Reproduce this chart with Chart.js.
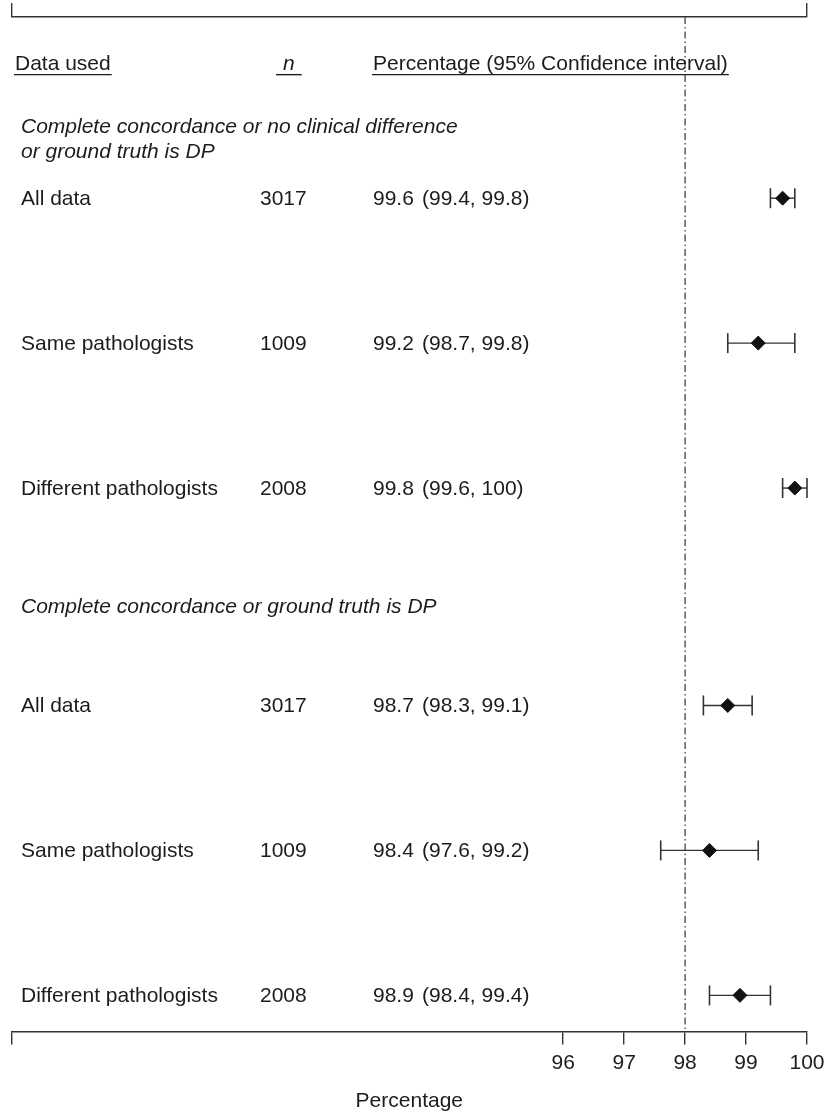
<!DOCTYPE html>
<html>
<head>
<meta charset="utf-8">
<script src="https://cdn.jsdelivr.net/npm/chart.js@4.4.1/dist/chart.umd.min.js"></script>
<style>
  html, body { margin: 0; padding: 0; background: #ffffff; }
  #wrap { width: 824px; height: 1114px; }
</style>
</head>
<body>
<div id="wrap"><canvas id="forest" width="824" height="1114"></canvas></div>
<script>
// Concordance between glass-slide and digital pathology reads
const groupTitles = [
  ['Complete concordance or no clinical difference', 'or ground truth is DP'],
  ['Complete concordance or ground truth is DP']
];
const groupTitleRows = [3.0, 16.26];
const rowLabels = ['All data', 'Same pathologists', 'Different pathologists',
                   'All data', 'Same pathologists', 'Different pathologists'];
const nValues = [3017, 1009, 2008, 3017, 1009, 2008];
const estimates = [99.6, 99.2, 99.8, 98.7, 98.4, 98.9];
const lowerCI = [99.4, 98.7, 99.6, 98.3, 97.6, 98.4];
const upperCI = [99.8, 99.8, 100, 99.1, 99.2, 99.4];
const rowPositions = [5, 9, 13, 19, 23, 27];
const xTickValues = [96, 97, 98, 99, 100];
const referenceValue = 98;
const headerLabels = ['Data used', 'n', 'Percentage (95% Confidence interval)'];

const X_MIN = 86.95, X_MAX = 100;
const Y_MIN = 0, Y_MAX = 28;
const FONT = "'Liberation Sans', Arial, Helvetica, sans-serif";
const INK = '#1c1c1c';
const LINE = '#333333';

// Confidence-interval whiskers, one small line per row with vertical caps
const ciDatasets = rowPositions.map((y, i) => ({
  type: 'line',
  data: [{ x: lowerCI[i], y: y }, { x: upperCI[i], y: y }],
  borderColor: LINE,
  borderWidth: 1.4,
  pointStyle: 'line',
  rotation: 90,
  pointRadius: 10,
  pointBorderWidth: 1.6,
  pointBorderColor: LINE,
  pointBackgroundColor: LINE,
  clip: false,
  order: 2
}));

const pointDataset = {
  type: 'scatter',
  data: rowPositions.map((y, i) => ({ x: estimates[i], y: y })),
  pointStyle: 'rectRot',
  pointRadius: 7,
  pointBackgroundColor: '#111111',
  pointBorderColor: '#111111',
  pointBorderWidth: 1,
  clip: false,
  order: 1
};

const referenceDataset = {
  type: 'line',
  data: [{ x: referenceValue, y: Y_MIN }, { x: referenceValue, y: Y_MAX }],
  borderColor: LINE,
  borderWidth: 1.2,
  borderDash: [7, 3, 1.5, 3],
  pointRadius: 0,
  clip: false,
  order: 3
};

// Table text: column headers, group titles, row labels, n and estimates
const tablePlugin = {
  id: 'forestTable',
  afterDatasetsDraw(chart) {
    const ctx = chart.ctx;
    const yScale = chart.scales.y;
    ctx.save();
    ctx.fillStyle = INK;
    ctx.strokeStyle = INK;
    ctx.textBaseline = 'alphabetic';

    const headerY = yScale.getPixelForValue(1.26) + 7;
    const headerX = [15, 283, 373];
    headerLabels.forEach((t, i) => {
      ctx.font = (i === 1 ? 'italic ' : '') + '21px ' + FONT;
      ctx.fillText(t, headerX[i], headerY);
      const w = ctx.measureText(t).width;
      const pad = i === 1 ? 7 : 1;
      ctx.lineWidth = 1.4;
      ctx.beginPath();
      ctx.moveTo(headerX[i] - pad, headerY + 5);
      ctx.lineTo(headerX[i] + w + pad, headerY + 5);
      ctx.stroke();
    });

    ctx.font = 'italic 21px ' + FONT;
    groupTitles.forEach((lines, g) => {
      const y0 = yScale.getPixelForValue(groupTitleRows[g]) + 7;
      lines.forEach((line, k) => ctx.fillText(line, 21, y0 + k * 25));
    });

    ctx.font = '21px ' + FONT;
    rowPositions.forEach((r, i) => {
      const y = yScale.getPixelForValue(r) + 7;
      ctx.fillText(rowLabels[i], 21, y);
      ctx.fillText(String(nValues[i]), 260, y);
      ctx.fillText(estimates[i].toFixed(1), 373, y);
      ctx.fillText('(' + String(lowerCI[i]) + ', ' + String(upperCI[i]) + ')', 422, y);
    });
    ctx.restore();
  }
};

// Let the layout padding alone decide the plot edges
function noLabelOverflow(axis) {
  axis.paddingLeft = 0;
  axis.paddingRight = 0;
}

new Chart(document.getElementById('forest'), {
  data: { datasets: [...ciDatasets, pointDataset, referenceDataset] },
  options: {
    responsive: false,
    animation: false,
    devicePixelRatio: 1,
    layout: { padding: { left: 7, right: 17, top: 3, bottom: 0 } },
    plugins: { legend: { display: false }, tooltip: { enabled: false } },
    scales: {
      x: {
        type: 'linear',
        position: 'bottom',
        min: X_MIN,
        max: X_MAX,
        afterBuildTicks(axis) {
          axis.ticks = [X_MIN, ...xTickValues].map(v => ({ value: v }));
        },
        afterFit: noLabelOverflow,
        ticks: {
          autoSkip: false,
          maxRotation: 0,
          padding: 6,
          color: INK,
          font: { family: FONT, size: 21 },
          callback: v => (xTickValues.includes(v) ? String(v) : '')
        },
        grid: { drawOnChartArea: false, drawTicks: true, tickLength: 13, color: LINE, lineWidth: 1.4 },
        border: { display: true, color: LINE, width: 1.4 },
        title: {
          display: true,
          text: 'Percentage',
          color: INK,
          font: { family: FONT, size: 21 },
          padding: { top: 7, bottom: 0 }
        }
      },
      xTop: {
        type: 'linear',
        position: 'top',
        min: X_MIN,
        max: X_MAX,
        afterBuildTicks(axis) {
          axis.ticks = [X_MIN, X_MAX].map(v => ({ value: v }));
        },
        afterFit: noLabelOverflow,
        ticks: { display: false },
        grid: { drawOnChartArea: false, drawTicks: true, tickLength: 14, color: LINE, lineWidth: 1.4 },
        border: { display: true, color: LINE, width: 1.4 }
      },
      y: {
        type: 'linear',
        display: false,
        reverse: true,
        min: Y_MIN,
        max: Y_MAX
      }
    }
  },
  plugins: [tablePlugin]
});
</script>
</body>
</html>
